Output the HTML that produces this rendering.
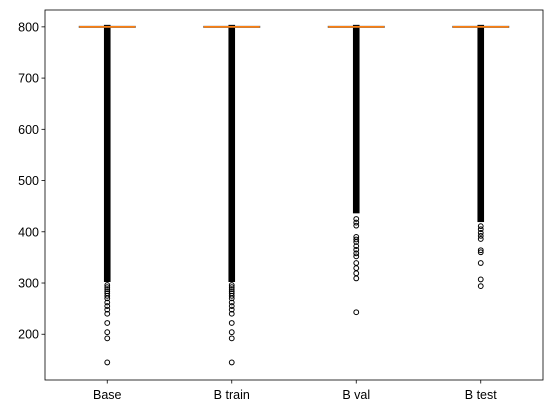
<!DOCTYPE html>
<html><head><meta charset="utf-8"><style>
body{margin:0;background:#fff;}
svg{display:block;font-family:"Liberation Sans","DejaVu Sans",sans-serif;}
</style></head><body>
<svg id="chart" width="552" height="413" viewBox="0 0 552 413" xmlns="http://www.w3.org/2000/svg">
<rect x="0" y="0" width="552" height="413" fill="#fff"/>
<g id="marks"></g>
<g id="axes"></g>
</svg>
<script>
const categories = ["Base", "B train", "B val", "B test"];
const medians = [800, 800, 800, 800];
const q1 = [799, 799, 799, 799];
const q3 = [801, 801, 801, 801];
const denseLow = [302, 302, 436, 419];
const outliers = [
  [296, 292, 288, 284, 280, 275, 270, 262, 255, 248, 240, 222, 204, 192, 145],
  [296, 292, 288, 284, 280, 275, 270, 262, 255, 248, 240, 222, 204, 192, 145],
  [425, 418, 412, 390, 385, 380, 372, 365, 358, 352, 339, 329, 319, 309, 243],
  [411, 405, 398, 392, 386, 364, 360, 339, 307, 294]
];
const yTicks = [200, 300, 400, 500, 600, 700, 800];

const L = 45, R = 543, T = 10, B = 380;
const yMin = 110.7, yMax = 832.9;
function y(v){ return B - (v - yMin) / (yMax - yMin) * (B - T); }
function x(i){ return L + (R - L) * (0.5 + i) / categories.length; }
const NS = "http://www.w3.org/2000/svg";
function mk(tag, attrs, parent){ const e = document.createElementNS(NS, tag); for (const k in attrs) e.setAttribute(k, attrs[k]); parent.appendChild(e); return e; }
const marks = document.getElementById("marks");
const axes = document.getElementById("axes");
const bw = 56;
categories.forEach((c, i) => {
  const cx = x(i);
  const band = mk("rect", {x: cx - 3.3, y: y(800) - 2, width: 6.6, height: y(denseLow[i]) - y(800) + 2, fill: "#000"}, marks);
  
  
  outliers[i].forEach(v => {
    const o = mk("circle", {cx: cx, cy: y(v), r: 2.4, fill: "none", stroke: "#000", "stroke-width": 1}, marks);
    
    
  });
  const box = mk("rect", {x: cx - bw/2, y: y(q3[i]), width: bw, height: Math.max(1, y(q1[i]) - y(q3[i])), fill: "none", stroke: "#555", "stroke-width": 1}, marks);
  
  
  const med = mk("line", {x1: cx - bw/2, x2: cx + bw/2, y1: y(medians[i]), y2: y(medians[i]), stroke: "#ff7f0e", "stroke-width": 1.6}, marks);
  
  
  mk("line", {x1: cx, x2: cx, y1: B, y2: B + 3.5, stroke: "#000", "stroke-width": 0.8}, axes);
  const t = mk("text", {x: cx, y: B + 19, "text-anchor": "middle", "font-size": 12.5, fill: "#000"}, axes);
  t.textContent = c;
  
  
});
yTicks.forEach(v => {
  mk("line", {x1: L - 3.5, x2: L, y1: y(v), y2: y(v), stroke: "#000", "stroke-width": 0.8}, axes);
  const t = mk("text", {x: L - 6, y: y(v) + 4.5, "text-anchor": "end", "font-size": 12.5, fill: "#000"}, axes);
  t.textContent = v;
  
  
});
const frame = mk("rect", {x: L, y: T, width: R - L, height: B - T, fill: "none", stroke: "#000", "stroke-width": 0.8}, axes);


</script>
</body></html>
